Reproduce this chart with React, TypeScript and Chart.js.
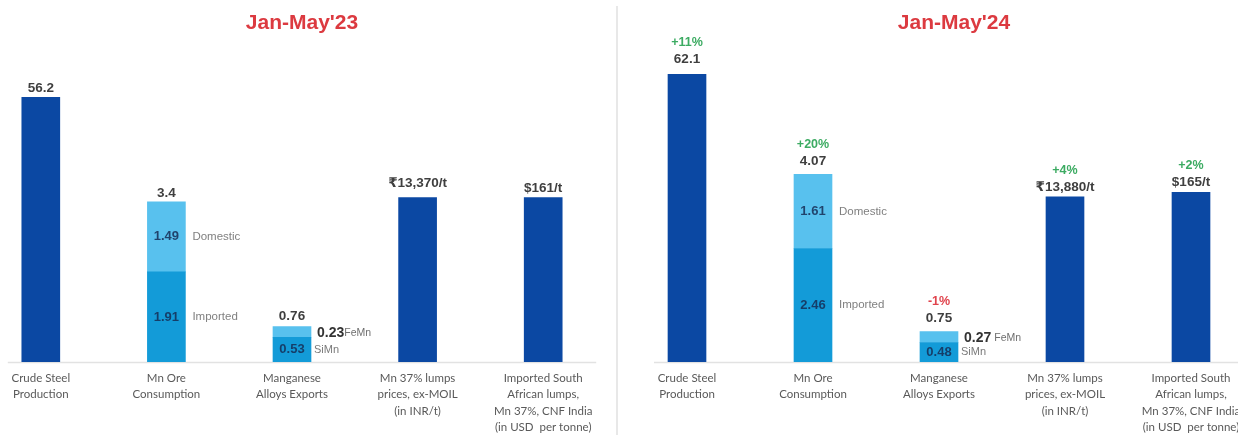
import React, { useEffect, useRef } from "react";
import { Chart, registerables } from "chart.js";

Chart.register(...registerables);

// ---------- data ----------
const categories: string[][] = [
  ["Crude Steel", "Production"],
  ["Mn Ore", "Consumption"],
  ["Manganese", "Alloys Exports"],
  ["Mn 37% lumps", "prices, ex-MOIL", "(in INR/t)"],
  ["Imported South", "African lumps,", "Mn 37%, CNF India", "(in USD  per tonne)"],
];
const periods = ["Jan-May'23", "Jan-May'24"];
const crudeSteel = [56.2, 62.1];
const oreImported = [1.91, 2.46];
const oreDomestic = [1.49, 1.61];
const oreTotal = [3.4, 4.07];
const siMnExports = [0.53, 0.48];
const feMnExports = [0.23, 0.27];
const alloyTotal = [0.76, 0.75];
const moilPriceInr = [13370, 13880];
const saPriceUsd = [161, 165];
const change24 = ["+11%", "+20%", "-1%", "+4%", "+2%"];

// ---------- style ----------
const DARK = "#0b48a3";
const MID = "#139bd8";
const LIGHT = "#58c1ee";
const FONT = "'Liberation Sans', Arial, 'DejaVu Sans', sans-serif";
const TICK_FONT = "Lato, 'Liberation Sans', sans-serif";

const panelStyle = [
  {
    canvasLeft: -22,
    canvasWidth: 628,
    titleX: 302,
    max: { yCrude: 68.4, yOre: 6.83, yAlloy: 6.9, yInr: 26200, yUsd: 315.5 },
    totalGap: [9, 8, 10, 14, 9],
    feGap: 0,
  },
  {
    canvasLeft: 624,
    canvasWidth: 630,
    titleX: 954,
    max: { yCrude: 69.5, yOre: 6.98, yAlloy: 7.92, yInr: 27040, yUsd: 313 },
    totalGap: [15, 13, 13, 9, 10],
    feGap: 3,
  },
];

const topDataset = [0, 2, 4, 5, 6];

function totalText(p: number, i: number): string {
  switch (i) {
    case 0:
      return crudeSteel[p].toFixed(1);
    case 1:
      return String(oreTotal[p]);
    case 2:
      return alloyTotal[p].toFixed(2);
    case 3:
      return "\u20B9" + moilPriceInr[p].toLocaleString("en-IN") + "/t";
    default:
      return "$" + saPriceUsd[p] + "/t";
  }
}

const labelsPlugin = {
  id: "barLabels",
  beforeDatasetsDraw(chart: any) {
    const ctx = chart.ctx;
    const first = chart.getDatasetMeta(0).data[0];
    const last = chart.getDatasetMeta(6).data[4];
    if (!first || !last) return;
    const y = chart.chartArea.bottom + 0.5;
    ctx.save();
    ctx.strokeStyle = "#e2e2e2";
    ctx.lineWidth = 1.5;
    ctx.beginPath();
    ctx.moveTo(first.x - 33, y);
    ctx.lineTo(last.x + 53, y);
    ctx.stroke();
    ctx.restore();
  },
  afterDraw(chart: any, _args: any, opts: any) {
    const p: number = opts.panel;
    const st = panelStyle[p];
    const ctx = chart.ctx;
    ctx.save();
    ctx.textBaseline = "middle";
    // totals and changes
    for (let i = 0; i < categories.length; i++) {
      const el = chart.getDatasetMeta(topDataset[i]).data[i];
      if (!el) continue;
      const cy = el.y - st.totalGap[i];
      ctx.textAlign = "center";
      ctx.fillStyle = "#3f3f3f";
      ctx.font = `bold 13.5px ${FONT}`;
      ctx.fillText(totalText(p, i), el.x, cy);
      if (p === 1) {
        const c = change24[i];
        ctx.fillStyle = c.startsWith("-") ? "#e0434c" : "#3cab62";
        ctx.font = `bold 12.5px ${FONT}`;
        ctx.fillText(c, el.x, cy - 17);
      }
    }
    // segment labels: ore
    const segs = [
      { ds: 1, v: oreImported[p].toFixed(2) },
      { ds: 2, v: oreDomestic[p].toFixed(2) },
    ];
    for (const s of segs) {
      const el = chart.getDatasetMeta(s.ds).data[1];
      if (!el) continue;
      const cy = (el.y + el.base) / 2;
      ctx.textAlign = "center";
      ctx.fillStyle = "rgba(22,45,85,0.85)";
      ctx.font = `bold 13px ${FONT}`;
      ctx.fillText(s.v, el.x, cy);
      ctx.textAlign = "left";
      ctx.fillStyle = "#808080";
      ctx.font = `11.5px ${FONT}`;
      ctx.fillText(chart.data.datasets[s.ds].label, el.x + el.width / 2 + 7, cy);
    }
    // alloys
    const si = chart.getDatasetMeta(3).data[2];
    if (si) {
      const cy = (si.y + si.base) / 2;
      ctx.textAlign = "center";
      ctx.fillStyle = "rgba(22,45,85,0.85)";
      ctx.font = `bold 13px ${FONT}`;
      ctx.fillText(siMnExports[p].toFixed(2), si.x, cy);
      ctx.textAlign = "left";
      ctx.fillStyle = "#7a7a7a";
      ctx.font = `11px ${FONT}`;
      ctx.fillText(chart.data.datasets[3].label, si.x + si.width / 2 + 3, cy);
    }
    const fe = chart.getDatasetMeta(4).data[2];
    if (fe) {
      const cy = (fe.y + fe.base) / 2 + 1;
      const x0 = fe.x + fe.width / 2 + 6;
      ctx.textAlign = "left";
      ctx.fillStyle = "#333333";
      ctx.font = `bold 14px ${FONT}`;
      const t = feMnExports[p].toFixed(2);
      ctx.fillText(t, x0, cy);
      const w = ctx.measureText(t).width;
      ctx.fillStyle = "#6f6f6f";
      ctx.font = `10.5px ${FONT}`;
      ctx.fillText(chart.data.datasets[4].label, x0 + w + st.feGap, cy);
    }
    ctx.restore();
  },
};

function only(i: number, v: number): (number | null)[] {
  return categories.map((_, k) => (k === i ? v : null));
}

function Panel({ p }: { p: number }) {
  const ref = useRef<HTMLCanvasElement>(null);
  const st = panelStyle[p];
  useEffect(() => {
    const yAxis = (max: number) => ({
      type: "linear" as const,
      display: false,
      stacked: true,
      min: 0,
      max,
    });
    const common = { barThickness: 38, borderWidth: 0 };
    const chart = new Chart(ref.current!, {
      type: "bar",
      data: {
        labels: categories,
        datasets: [
          { ...common, label: "Crude Steel Production", data: only(0, crudeSteel[p]), yAxisID: "yCrude", backgroundColor: DARK },
          { ...common, label: "Imported", data: only(1, oreImported[p]), yAxisID: "yOre", backgroundColor: MID },
          { ...common, label: "Domestic", data: only(1, oreDomestic[p]), yAxisID: "yOre", backgroundColor: LIGHT },
          { ...common, label: "SiMn", data: only(2, siMnExports[p]), yAxisID: "yAlloy", backgroundColor: MID },
          { ...common, label: "FeMn", data: only(2, feMnExports[p]), yAxisID: "yAlloy", backgroundColor: LIGHT },
          { ...common, label: "Mn 37% lumps ex-MOIL", data: only(3, moilPriceInr[p]), yAxisID: "yInr", backgroundColor: DARK },
          { ...common, label: "Imported South African lumps", data: only(4, saPriceUsd[p]), yAxisID: "yUsd", backgroundColor: DARK },
        ],
      },
      options: {
        responsive: false,
        maintainAspectRatio: false,
        animation: false,
        layout: { padding: { top: 40, left: 0, right: 0, bottom: 0 } },
        plugins: {
          legend: { display: false },
          tooltip: { enabled: false },
          title: { display: false },
          barLabels: { panel: p },
        } as any,
        scales: {
          x: {
            stacked: true,
            offset: true,
            grid: { display: false, drawTicks: false },
            border: { display: false },
            ticks: {
              autoSkip: false,
              maxRotation: 0,
              minRotation: 0,
              padding: 8,
              color: "#595959",
              font: { family: TICK_FONT, size: 11.5, lineHeight: 1.43 },
            },
            afterFit: (s: any) => {
              s.height = 73;
            },
          },
          yCrude: yAxis(st.max.yCrude),
          yOre: yAxis(st.max.yOre),
          yAlloy: yAxis(st.max.yAlloy),
          yInr: yAxis(st.max.yInr),
          yUsd: yAxis(st.max.yUsd),
        } as any,
      },
      plugins: [labelsPlugin as any],
    });
    return () => chart.destroy();
  }, [p]);
  return (
    <canvas
      ref={ref}
      width={st.canvasWidth}
      height={435}
      style={{ position: "absolute", left: st.canvasLeft, top: 0, width: st.canvasWidth, height: 435 }}
    />
  );
}

export default function App() {
  return (
    <div
      style={{
        position: "absolute",
        left: 0,
        top: 0,
        width: 1238,
        height: 435,
        overflow: "hidden",
        background: "#ffffff",
      }}
    >
      <Panel p={0} />
      <Panel p={1} />
      <div
        style={{ position: "absolute", left: 616, top: 6, width: 2, height: 429, background: "#e8e8e8" }}
      />
      {periods.map((t, i) => (
        <div
          key={t}
          style={{
            position: "absolute",
            top: 9,
            left: panelStyle[i].titleX,
            transform: "translateX(-50%)",
            font: `bold 21px ${FONT}`,
            lineHeight: "26px",
            color: "#dc3a40",
            whiteSpace: "nowrap",
          }}
        >
          {t}
        </div>
      ))}
    </div>
  );
}
